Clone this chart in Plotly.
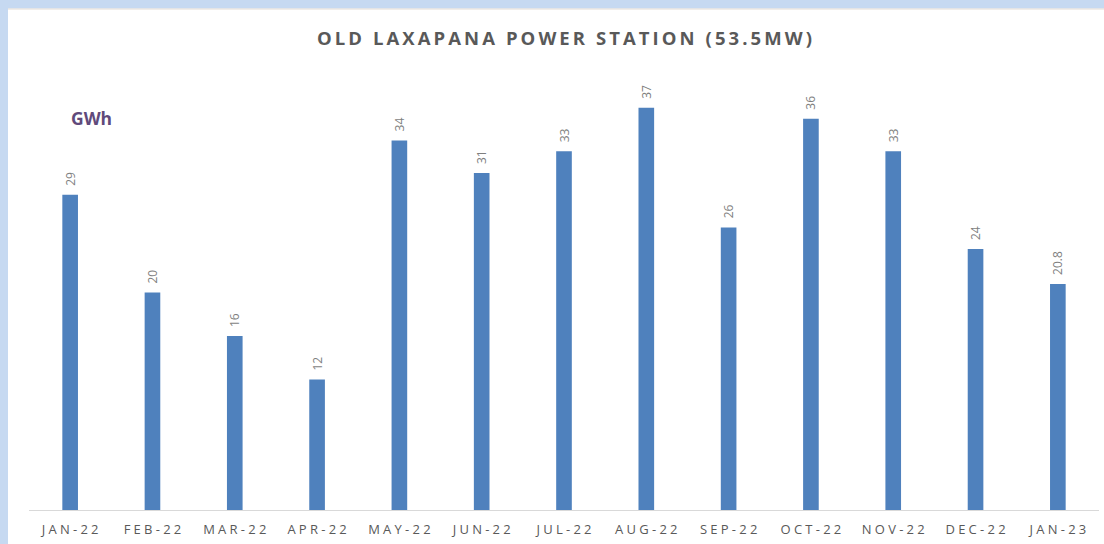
import plotly.graph_objects as go

months = ["JAN-22", "FEB-22", "MAR-22", "APR-22", "MAY-22", "JUN-22", "JUL-22",
          "AUG-22", "SEP-22", "OCT-22", "NOV-22", "DEC-22", "JAN-23"]
values = [29, 20, 16, 12, 34, 31, 33, 37, 26, 36, 33, 24, 20.8]
value_labels = ["29", "20", "16", "12", "34", "31", "33", "37", "26", "36", "33", "24", "20.8"]
title_text = "OLD LAXAPANA POWER STATION (53.5MW)"
unit_text = "GWh"

W, H = 1104, 544
ML, MR, MT, MB = 29, 5, 70, 34
PW, PH = W - ML - MR, H - MT - MB


def spaced(s, sep):
    return sep.join(list(s))


tick_text = [spaced(m, "\u2005") for m in months]

fig = go.Figure()
fig.add_trace(go.Bar(
    x=months, y=values,
    marker=dict(color="#4F81BD", line=dict(width=0)),
    width=0.19,
    text=["\u2002" + t for t in value_labels], textposition="outside", textangle=-90,
    textfont=dict(family="Open Sans", size=12, color="#7F7F7F"),
    constraintext="none", cliponaxis=False,
))


def px_x(p):
    return (p - ML) / PW


def px_y(p):
    return (H - MB - p) / PH


shapes = [
    dict(type="rect", xref="paper", yref="paper", x0=px_x(0), x1=px_x(W), y0=px_y(0), y1=px_y(8.5),
         fillcolor="#C6D9F1", line=dict(width=0), layer="below"),
    dict(type="rect", xref="paper", yref="paper", x0=px_x(0), x1=px_x(8), y0=px_y(0), y1=px_y(H),
         fillcolor="#C6D9F1", line=dict(width=0), layer="below"),
    dict(type="line", xref="paper", yref="paper", x0=px_x(8), x1=px_x(W), y0=px_y(9), y1=px_y(9),
         line=dict(color="#E4DCD4", width=1), layer="below"),
]

fig.update_layout(
    width=W, height=H,
    margin=dict(l=ML, r=MR, t=MT, b=MB),
    paper_bgcolor="white", plot_bgcolor="white",
    showlegend=False,
    shapes=shapes,
    xaxis=dict(
        tickmode="array", tickvals=months, ticktext=tick_text,
        tickfont=dict(family="Open Sans", size=13, color="#595959"),
        showline=True, linecolor="#D9D9D9", linewidth=1,
        showgrid=False, ticks="", zeroline=False, ticklabelstandoff=7,
    ),
    yaxis=dict(range=[0, PH / 10.87], visible=False, showgrid=False, zeroline=False),
    annotations=[
        dict(text="<b>" + spaced(title_text, "\u2009") + "</b>", xref="paper", yref="paper",
             x=0.5, y=px_y(38), xanchor="center", yanchor="middle", showarrow=False,
             font=dict(family="Open Sans", size=18.5, color="#595959")),
        dict(text="<b>" + unit_text + "</b>", xref="paper", yref="paper",
             x=px_x(69), y=px_y(118), xanchor="left", yanchor="middle", showarrow=False,
             font=dict(family="Open Sans", size=17.5, color="#604A7B")),
    ],
)

fig.write_html("out.html", config={"displayModeBar": False},
               post_script="document.body.style.margin='0';document.body.style.padding='0';")
